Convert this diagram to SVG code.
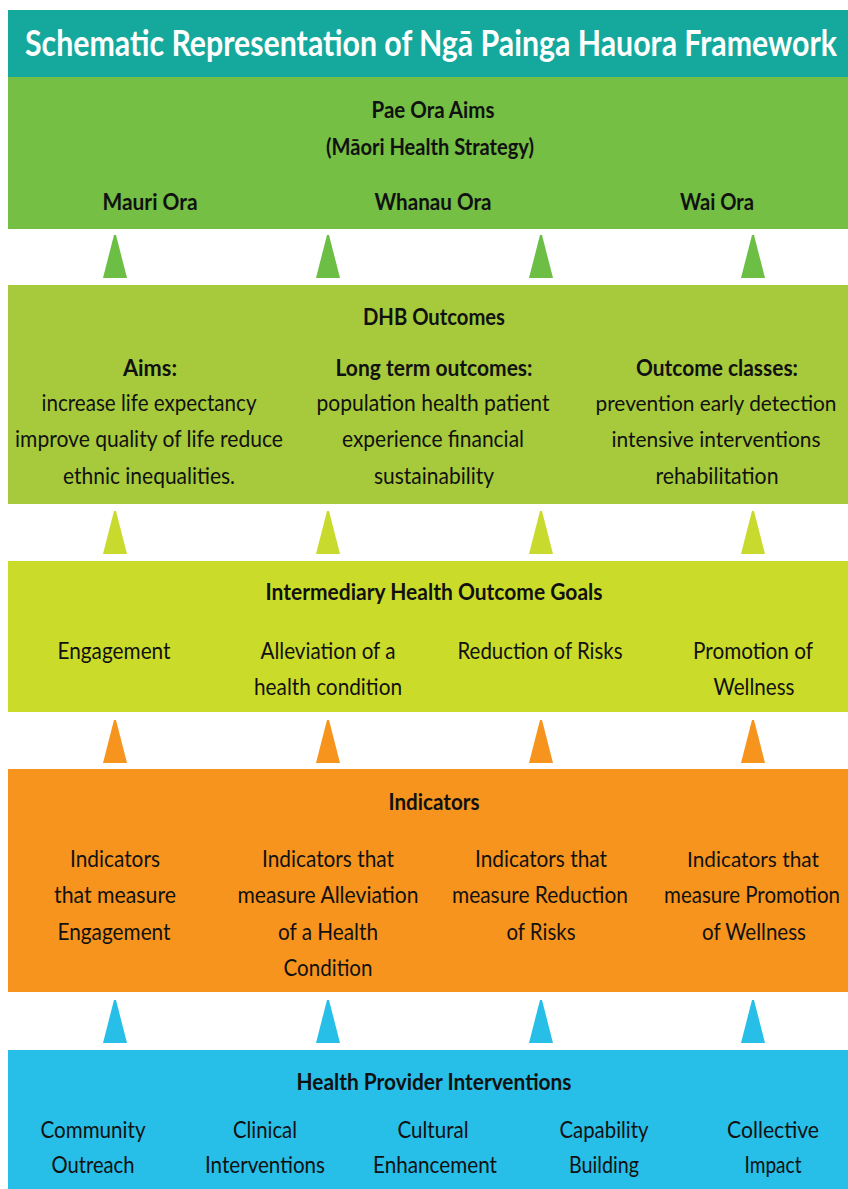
<svg xmlns="http://www.w3.org/2000/svg" xmlns:xlink="http://www.w3.org/1999/xlink" width="848" height="1189" viewBox="0 0 848 1189">
  <style>
    text { font-family: Lato, "Liberation Sans", "DejaVu Sans", sans-serif; text-anchor: middle; fill: #111; }
    .title { font-size: 37px; font-weight: bold; fill: #ffffff; }
    .head { font-size: 23px; font-weight: bold; }
    .body { font-size: 23px; }
    .sm { font-size: 22px; }
    .teal { fill: #14a99c; }
    .g1 { fill: #74bf44; }
    .g2 { fill: #a6ca3b; }
    .g3 { fill: #cbdb2a; }
    .or { fill: #f7941e; }
    .bl { fill: #27bee7; }
    .a1 { fill: #6cbe45; }
    .a2 { fill: #c8da2e; }
    .a3 { fill: #f7941e; }
    .a4 { fill: #27bee7; }
  </style>
  <defs>
    <!-- upward pointing wedge used between the layers -->
    <path id="tri" d="M-1,0 L1,0 L12,43 L-12,43 Z"/>
  </defs>
  <rect width="848" height="1189" fill="#ffffff"/>

  <!-- header -->
  <g id="title">
    <rect class="teal" x="8" y="10" width="840" height="67"/>
    <text class="title" transform="translate(431,56) scale(0.8,1)" x="0" y="0" textLength="1015" lengthAdjust="spacingAndGlyphs">Schematic Representation of Ngā Painga Hauora Framework</text>
  </g>

  <!-- layer 1: Pae Ora aims -->
  <g id="pae-ora">
    <rect class="g1" x="8" y="77" width="840" height="152"/>
    <text class="head" x="433" y="118" textLength="123" lengthAdjust="spacingAndGlyphs">Pae Ora Aims</text>
    <text class="head" x="430" y="155" textLength="208" lengthAdjust="spacingAndGlyphs">(Māori Health Strategy)</text>
    <text class="head" x="150" y="210" textLength="95" lengthAdjust="spacingAndGlyphs">Mauri Ora</text>
    <text class="head" x="433" y="210" textLength="117" lengthAdjust="spacingAndGlyphs">Whanau Ora</text>
    <text class="head" x="717" y="210" textLength="74" lengthAdjust="spacingAndGlyphs">Wai Ora</text>
  </g>

  <!-- layer 2: DHB outcomes -->
  <g id="dhb-outcomes">
    <rect class="g2" x="8" y="285" width="840" height="219"/>
    <text class="head" x="434" y="325" textLength="142" lengthAdjust="spacingAndGlyphs">DHB Outcomes</text>
    <text class="head" x="150" y="376" textLength="54" lengthAdjust="spacingAndGlyphs">Aims:</text>
    <text class="body" x="149" y="411" textLength="215" lengthAdjust="spacingAndGlyphs">increase life expectancy</text>
    <text class="body" x="149" y="447" textLength="268" lengthAdjust="spacingAndGlyphs">improve quality of life reduce</text>
    <text class="body" x="149" y="484" textLength="172" lengthAdjust="spacingAndGlyphs">ethnic inequalities.</text>
    <text class="head" x="434" y="376" textLength="197" lengthAdjust="spacingAndGlyphs">Long term outcomes:</text>
    <text class="body" x="433" y="411" textLength="233" lengthAdjust="spacingAndGlyphs">population health patient</text>
    <text class="body" x="433" y="447" textLength="182" lengthAdjust="spacingAndGlyphs">experience financial</text>
    <text class="body" x="434" y="484" textLength="120" lengthAdjust="spacingAndGlyphs">sustainability</text>
    <text class="head" x="717" y="376" textLength="162" lengthAdjust="spacingAndGlyphs">Outcome classes:</text>
    <text class="body sm" x="716" y="411" textLength="241" lengthAdjust="spacingAndGlyphs">prevention early detection</text>
    <text class="body sm" x="716" y="447" textLength="209" lengthAdjust="spacingAndGlyphs">intensive interventions</text>
    <text class="body" x="717" y="484" textLength="123" lengthAdjust="spacingAndGlyphs">rehabilitation</text>
  </g>

  <!-- layer 3: intermediary goals -->
  <g id="intermediary-goals">
    <rect class="g3" x="8" y="561" width="840" height="151"/>
    <text class="head" x="434" y="600" textLength="337" lengthAdjust="spacingAndGlyphs">Intermediary Health Outcome Goals</text>
    <text class="body" x="114" y="659" textLength="113" lengthAdjust="spacingAndGlyphs">Engagement</text>
    <text class="body" x="328" y="659" textLength="135" lengthAdjust="spacingAndGlyphs">Alleviation of a</text>
    <text class="body" x="328" y="695" textLength="148" lengthAdjust="spacingAndGlyphs">health condition</text>
    <text class="body" x="540" y="659" textLength="165" lengthAdjust="spacingAndGlyphs">Reduction of Risks</text>
    <text class="body" x="753" y="659" textLength="120" lengthAdjust="spacingAndGlyphs">Promotion of</text>
    <text class="body" x="754" y="695" textLength="81" lengthAdjust="spacingAndGlyphs">Wellness</text>
  </g>

  <!-- layer 4: indicators -->
  <g id="indicators">
    <rect class="or" x="8" y="769" width="840" height="223"/>
    <text class="head" x="434" y="810" textLength="91" lengthAdjust="spacingAndGlyphs">Indicators</text>
    <text class="body" x="115" y="867" textLength="90" lengthAdjust="spacingAndGlyphs">Indicators</text>
    <text class="body" x="115" y="903" textLength="122" lengthAdjust="spacingAndGlyphs">that measure</text>
    <text class="body" x="114" y="940" textLength="113" lengthAdjust="spacingAndGlyphs">Engagement</text>
    <text class="body" x="328" y="867" textLength="132" lengthAdjust="spacingAndGlyphs">Indicators that</text>
    <text class="body" x="328" y="903" textLength="181" lengthAdjust="spacingAndGlyphs">measure Alleviation</text>
    <text class="body" x="328" y="940" textLength="100" lengthAdjust="spacingAndGlyphs">of a Health</text>
    <text class="body" x="328" y="976" textLength="89" lengthAdjust="spacingAndGlyphs">Condition</text>
    <text class="body" x="541" y="867" textLength="132" lengthAdjust="spacingAndGlyphs">Indicators that</text>
    <text class="body" x="540" y="903" textLength="176" lengthAdjust="spacingAndGlyphs">measure Reduction</text>
    <text class="body" x="541" y="940" textLength="69" lengthAdjust="spacingAndGlyphs">of Risks</text>
    <text class="body sm" x="753" y="867" textLength="132" lengthAdjust="spacingAndGlyphs">Indicators that</text>
    <text class="body" transform="translate(752,903) scale(0.85,1)" x="0" y="0" textLength="207" lengthAdjust="spacingAndGlyphs">measure Promotion</text>
    <text class="body" x="754" y="940" textLength="104" lengthAdjust="spacingAndGlyphs">of Wellness</text>
  </g>

  <!-- layer 5: provider interventions -->
  <g id="interventions">
    <rect class="bl" x="8" y="1050" width="840" height="139"/>
    <text class="head" x="434" y="1090" textLength="275" lengthAdjust="spacingAndGlyphs">Health Provider Interventions</text>
    <text class="body" x="93" y="1138" textLength="105" lengthAdjust="spacingAndGlyphs">Community</text>
    <text class="body" x="93" y="1173" textLength="83" lengthAdjust="spacingAndGlyphs">Outreach</text>
    <text class="body" x="265" y="1138" textLength="64" lengthAdjust="spacingAndGlyphs">Clinical</text>
    <text class="body" x="265" y="1173" textLength="120" lengthAdjust="spacingAndGlyphs">Interventions</text>
    <text class="body" x="433" y="1138" textLength="71" lengthAdjust="spacingAndGlyphs">Cultural</text>
    <text class="body" x="435" y="1173" textLength="124" lengthAdjust="spacingAndGlyphs">Enhancement</text>
    <text class="body" x="604" y="1138" textLength="89" lengthAdjust="spacingAndGlyphs">Capability</text>
    <text class="body" x="604" y="1173" textLength="70" lengthAdjust="spacingAndGlyphs">Building</text>
    <text class="body" x="773" y="1138" textLength="92" lengthAdjust="spacingAndGlyphs">Collective</text>
    <text class="body" x="773" y="1173" textLength="57" lengthAdjust="spacingAndGlyphs">Impact</text>
  </g>

  <!-- upward connectors between layers -->
  <g id="connectors">
    <use href="#tri" class="a1" x="115" y="235"/>
    <use href="#tri" class="a1" x="328" y="235"/>
    <use href="#tri" class="a1" x="541" y="235"/>
    <use href="#tri" class="a1" x="753" y="235"/>

    <use href="#tri" class="a2" x="115" y="511"/>
    <use href="#tri" class="a2" x="328" y="511"/>
    <use href="#tri" class="a2" x="541" y="511"/>
    <use href="#tri" class="a2" x="753" y="511"/>

    <use href="#tri" class="a3" x="115" y="720"/>
    <use href="#tri" class="a3" x="328" y="720"/>
    <use href="#tri" class="a3" x="541" y="720"/>
    <use href="#tri" class="a3" x="753" y="720"/>

    <use href="#tri" class="a4" x="115" y="1000"/>
    <use href="#tri" class="a4" x="328" y="1000"/>
    <use href="#tri" class="a4" x="541" y="1000"/>
    <use href="#tri" class="a4" x="753" y="1000"/>
  </g>
</svg>
